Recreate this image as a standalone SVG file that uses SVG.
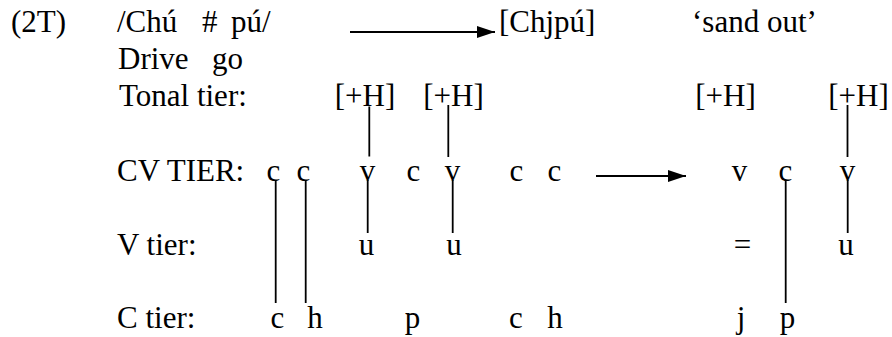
<svg xmlns="http://www.w3.org/2000/svg" width="892" height="337" viewBox="0 0 892 337">
<style>
text{font-family:'Liberation Serif','DejaVu Serif',serif;font-size:31px;fill:#000}
.m{text-anchor:middle}
.ln{stroke:#000;stroke-width:1.8;fill:none}
</style>
<defs>
<marker id="ah" markerWidth="18" markerHeight="12" refX="18" refY="6" orient="auto" markerUnits="userSpaceOnUse">
<path d="M0,0 L18,6 L0,12 Z" fill="#000"/>
</marker>
</defs>
<rect width="892" height="337" fill="#fff"/>
<g id="header">
<text x="11" y="32">(2T)</text>
<text x="117" y="32">/Chú</text>
<text x="202" y="32">#</text>
<text x="231" y="32">pú/</text>
<text x="499" y="32">[Chjpú]</text>
<text x="692" y="32">‘sand out’</text>
<text x="118" y="69">Drive</text>
<text x="212" y="69">go</text>
</g>
<g id="labels">
<text x="119" y="106">Tonal tier:</text>
<text x="117" y="181">CV TIER:</text>
<text x="117" y="255">V tier:</text>
<text x="117" y="328">C tier:</text>
</g>
<g id="tonal">
<text class="m" x="365" y="106">[+H]</text>
<text class="m" x="453.5" y="106">[+H]</text>
<text class="m" x="725.5" y="106">[+H]</text>
<text class="m" x="858.5" y="106">[+H]</text>
</g>
<g id="cv">
<text class="m" x="273.3" y="181">c</text>
<text class="m" x="303.3" y="181">c</text>
<text class="m" x="367.5" y="181">v</text>
<text class="m" x="413.3" y="181">c</text>
<text class="m" x="452.5" y="181">v</text>
<text class="m" x="516.5" y="181">c</text>
<text class="m" x="554.5" y="181">c</text>
<text class="m" x="739.5" y="181">v</text>
<text class="m" x="785.5" y="181">c</text>
<text class="m" x="847.5" y="181">v</text>
</g>
<g id="vtier">
<text class="m" x="366.5" y="255">u</text>
<text class="m" x="454" y="255">u</text>
<text class="m" x="742.5" y="255">=</text>
<text class="m" x="846" y="255">u</text>
</g>
<g id="ctier">
<text class="m" x="277.5" y="328">c</text>
<text class="m" x="315" y="328">h</text>
<text class="m" x="412.5" y="328">p</text>
<text class="m" x="516" y="328">c</text>
<text class="m" x="555" y="328">h</text>
<text class="m" x="741" y="328">j</text>
<text class="m" x="787.5" y="328">p</text>
</g>
<g id="connectors">
<line class="ln" x1="350" y1="32" x2="495" y2="32" marker-end="url(#ah)"/>
<line class="ln" x1="596" y1="176" x2="686" y2="176" marker-end="url(#ah)"/>
<line class="ln" x1="369.3" y1="106.5" x2="369.3" y2="156.5"/>
<line class="ln" x1="448.3" y1="105" x2="448.3" y2="157"/>
<line class="ln" x1="847.5" y1="105" x2="847.5" y2="157"/>
<line class="ln" x1="275.7" y1="180" x2="275.7" y2="303"/>
<line class="ln" x1="305.7" y1="180" x2="305.7" y2="303"/>
<line class="ln" x1="367.7" y1="180" x2="367.7" y2="233"/>
<line class="ln" x1="452.7" y1="180" x2="452.7" y2="233"/>
<line class="ln" x1="785.7" y1="180" x2="785.7" y2="303"/>
<line class="ln" x1="847.7" y1="180" x2="847.7" y2="233"/>
</g>
</svg>
